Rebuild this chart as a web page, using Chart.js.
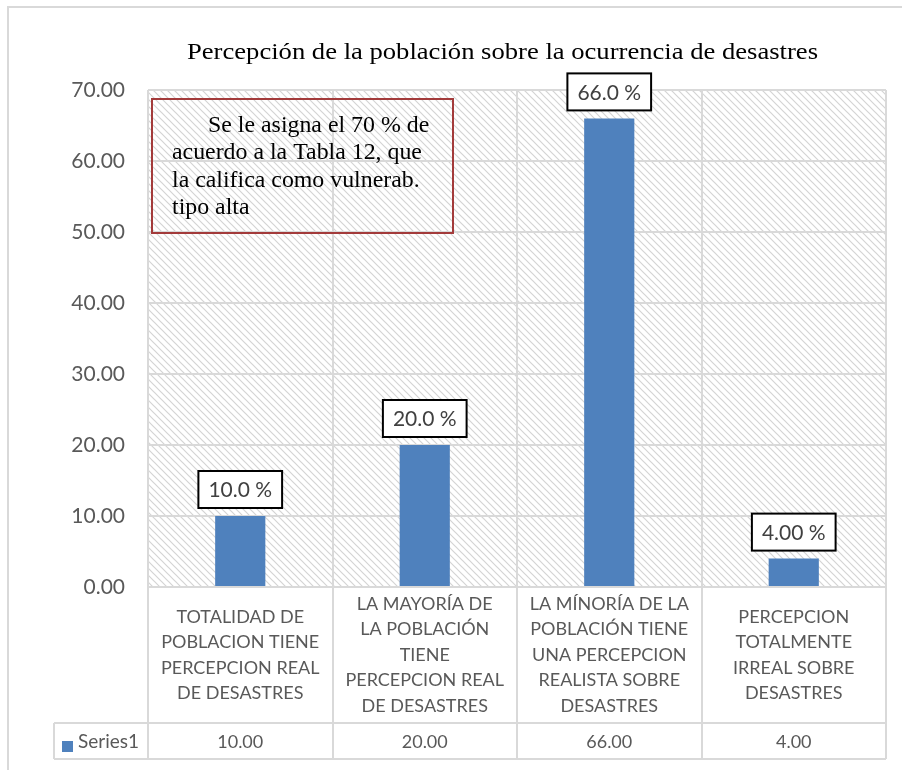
<!DOCTYPE html>
<html lang="es">
<head>
    <meta charset="UTF-8">
    <title>Percepción de la población sobre la ocurrencia de desastres</title>
    <style>
        body {
            margin: 0;
            background-color: #fff;
        }

        #chart-box {
            width: 902px;
            height: 770px;
        }
    </style>
</head>
<body>
    <div id="chart-box">
        <canvas id="chart" width="902" height="770"></canvas>
    </div>

    <script src="https://cdn.jsdelivr.net/npm/chart.js"></script>

    <script>
        const chartTitle = "Percepción de la población sobre la ocurrencia de desastres";
        const categories = [
            ["TOTALIDAD DE", "POBLACION TIENE", "PERCEPCION REAL", "DE DESASTRES"],
            ["LA MAYORÍA DE", "LA POBLACIÓN", "TIENE", "PERCEPCION REAL", "DE DESASTRES"],
            ["LA MÍNORÍA DE LA", "POBLACIÓN TIENE", "UNA PERCEPCION", "REALISTA SOBRE", "DESASTRES"],
            ["PERCEPCION", "TOTALMENTE", "IRREAL SOBRE", "DESASTRES"]
        ];
        const seriesName = "Series1";
        const values = [10, 20, 66, 4];
        const valueLabels = ["10.0 %", "20.0 %", "66.0 %", "4.00 %"];
        const yTicks = [0, 10, 20, 30, 40, 50, 60, 70];
        const noteLines = [
            "Se le asigna el 70 % de",
            "acuerdo a la Tabla 12, que",
            "la califica como vulnerab.",
            "tipo alta"
        ];

        const gray = "#595959";
        const lineGray = "#d9d9d9";
        const barBlue = "#4f81bd";
        const sans = "Lato, 'Open Sans', sans-serif";
        const serif = "'Liberation Serif', 'DejaVu Serif', serif";

        // diagonal hatch used as plot area fill
        function makeHatch() {
            const n = 7;
            const c = document.createElement("canvas");
            c.width = n;
            c.height = n;
            const g = c.getContext("2d");
            g.fillStyle = "#fff";
            g.fillRect(0, 0, n, n);
            g.strokeStyle = "#d4d4d4";
            g.lineWidth = 1.2;
            g.beginPath();
            g.moveTo(-1, -1);
            g.lineTo(n + 1, n + 1);
            g.moveTo(-1, n - 1);
            g.lineTo(1, n + 1);
            g.moveTo(n - 1, -1);
            g.lineTo(n + 1, 1);
            g.stroke();
            return c;
        }

        // draw text stretched to a given width (the original text is wide-set)
        function wideText(ctx, text, x, y, width, align) {
            const w = ctx.measureText(text).width;
            const sx = width / w;
            ctx.save();
            ctx.translate(x, y);
            ctx.scale(sx, 1);
            ctx.textAlign = align;
            ctx.fillText(text, 0, 0);
            ctx.restore();
        }

        const backgroundPlugin = {
            id: "background",
            beforeDraw(chart) {
                const ctx = chart.ctx;
                const a = chart.chartArea;
                ctx.save();
                ctx.fillStyle = "#fff";
                ctx.fillRect(0, 0, chart.width, chart.height);
                ctx.fillStyle = ctx.createPattern(makeHatch(), "repeat");
                ctx.fillRect(a.left, a.top, a.right - a.left, a.bottom - a.top);

                // outer frame
                ctx.strokeStyle = lineGray;
                ctx.lineWidth = 2;
                ctx.beginPath();
                ctx.moveTo(8, chart.height);
                ctx.lineTo(8, 7);
                ctx.lineTo(chart.width, 7);
                ctx.stroke();

                // title
                ctx.fillStyle = "#000";
                ctx.font = "23.5px " + serif;
                ctx.textBaseline = "alphabetic";
                wideText(ctx, chartTitle, 502.5, 59, 631, "center");
                ctx.restore();
            },
            beforeDatasetsDraw(chart) {
                const ctx = chart.ctx;
                const a = chart.chartArea;
                const step = (a.right - a.left) / categories.length;
                ctx.save();
                ctx.strokeStyle = lineGray;
                ctx.lineWidth = 2;
                ctx.beginPath();
                for (let i = 0; i <= categories.length; i++) {
                    const px = Math.round(a.left + i * step);
                    ctx.moveTo(px, a.top);
                    ctx.lineTo(px, 759);
                }
                ctx.stroke();
                ctx.restore();
            }
        };

        const tablePlugin = {
            id: "dataTable",
            afterDraw(chart) {
                const ctx = chart.ctx;
                const a = chart.chartArea;
                const x = chart.scales.x;
                const rowTop = 723;
                const rowBottom = 759;
                ctx.save();
                ctx.strokeStyle = lineGray;
                ctx.lineWidth = 2;
                ctx.beginPath();
                ctx.moveTo(a.left, a.bottom);
                ctx.lineTo(a.right, a.bottom);
                ctx.moveTo(54, rowTop);
                ctx.lineTo(a.right, rowTop);
                ctx.moveTo(54, rowBottom);
                ctx.lineTo(a.right, rowBottom);
                ctx.moveTo(54, rowTop);
                ctx.lineTo(54, rowBottom);
                ctx.stroke();

                ctx.fillStyle = gray;
                ctx.textAlign = "center";
                ctx.textBaseline = "middle";
                ctx.font = "18px " + sans;
                const lineH = 25.5;
                const midY = (a.bottom + rowTop) / 2;
                categories.forEach((lines, i) => {
                    const cx = x.getPixelForValue(i);
                    const y0 = midY - (lines.length - 1) * lineH / 2;
                    lines.forEach((t, j) => ctx.fillText(t, cx, y0 + j * lineH));
                    ctx.fillText(values[i].toFixed(2), cx, (rowTop + rowBottom) / 2 + 1);
                });

                // series key
                ctx.fillStyle = barBlue;
                ctx.fillRect(62, 741, 11, 11);
                ctx.fillStyle = gray;
                ctx.textAlign = "left";
                ctx.font = "19px " + sans;
                ctx.fillText(seriesName, 78, (rowTop + rowBottom) / 2 + 1);

                // note box
                ctx.strokeStyle = "#a33b3b";
                ctx.lineWidth = 2;
                ctx.strokeRect(152, 99, 301, 134);
                ctx.fillStyle = "#000";
                ctx.font = "22.5px " + serif;
                ctx.textBaseline = "middle";
                ctx.save();
                ctx.translate(172, 0);
                ctx.scale(1.06, 1);
                noteLines.forEach((t, j) => {
                    ctx.fillText(t, j === 0 ? 34 : 0, 126 + j * 27.3);
                });
                ctx.restore();
                ctx.restore();
            }
        };

        const labelPlugin = {
            id: "valueLabels",
            afterDatasetsDraw(chart) {
                const ctx = chart.ctx;
                const meta = chart.getDatasetMeta(0);
                ctx.save();
                ctx.font = "21px " + sans;
                ctx.textAlign = "center";
                ctx.textBaseline = "middle";
                meta.data.forEach((bar, i) => {
                    const w = ctx.measureText(valueLabels[i]).width + 20;
                    const h = 37;
                    const bottom = bar.y - 8;
                    ctx.fillStyle = "#fff";
                    ctx.fillRect(bar.x - w / 2, bottom - h, w, h);
                    ctx.strokeStyle = "#000";
                    ctx.lineWidth = 2;
                    ctx.strokeRect(bar.x - w / 2, bottom - h, w, h);
                    ctx.fillStyle = "#404040";
                    ctx.fillText(valueLabels[i], bar.x, bottom - h / 2 + 1);
                });
                ctx.restore();
            }
        };

        new Chart(document.getElementById("chart"), {
            type: "bar",
            data: {
                labels: categories.map(c => c.join(" ")),
                datasets: [{
                    label: seriesName,
                    data: values,
                    backgroundColor: barBlue,
                    barPercentage: 0.272,
                    categoryPercentage: 1
                }]
            },
            options: {
                responsive: false,
                animation: false,
                layout: {
                    padding: { left: 8, right: 16, top: 90, bottom: 183 }
                },
                plugins: {
                    legend: { display: false },
                    tooltip: { enabled: false }
                },
                scales: {
                    x: {
                        display: false
                    },
                    y: {
                        min: 0,
                        max: 70,
                        afterFit(scale) {
                            scale.width = 140;
                        },
                        afterBuildTicks(scale) {
                            scale.ticks = yTicks.map(v => ({ value: v }));
                        },
                        border: { display: false },
                        grid: {
                            color: lineGray,
                            lineWidth: 2,
                            drawTicks: false
                        },
                        ticks: {
                            padding: 23,
                            color: gray,
                            font: { family: sans, size: 21 },
                            callback: v => v.toFixed(2)
                        }
                    }
                }
            },
            plugins: [backgroundPlugin, labelPlugin, tablePlugin]
        });
    </script>
</body>
</html>
